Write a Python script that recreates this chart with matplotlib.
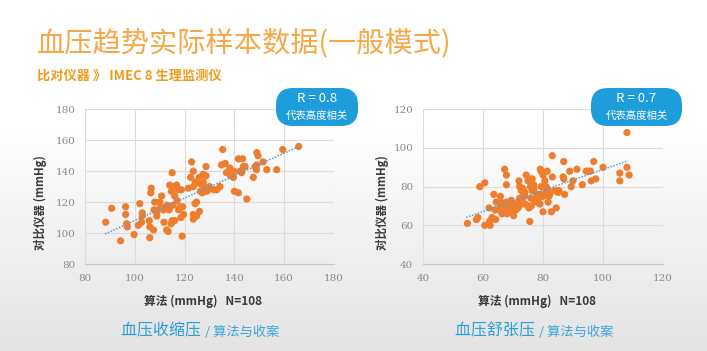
import numpy as np
import matplotlib
matplotlib.use("Agg")
import matplotlib.pyplot as plt
from matplotlib.patches import FancyBboxPatch

plt.rcParams['font.family'] = ['Noto Sans CJK SC', 'DejaVu Sans']

# ---------------- data ----------------
sys_x = [88.3, 90.7, 94.3, 96.3, 96.3, 96.7, 97.0, 99.7, 102.0, 101.4, 103.0, 103.0, 102.7,
         105.8, 106.4, 106.6, 106.0, 107.5, 106.0, 107.7, 108.0, 108.8, 108.8, 110.0, 110.0,
         110.8, 111.7, 111.5, 112.2, 112.8, 113.0, 113.8, 113.4, 114.0, 115.0, 115.4, 114.7,
         115.4, 116.0, 116.0, 115.0, 114.6, 117.0, 117.6, 116.8, 117.4, 118.3, 119.2, 118.5,
         118.7, 119.0, 119.6, 121.5, 122.4, 122.8, 123.5, 123.5, 124.2, 123.5, 123.5, 124.8,
         124.8, 124.2, 125.9, 126.1, 126.3, 127.1, 126.0, 127.5, 127.5, 127.8, 128.6, 128.6,
         128.9, 129.5, 130.0, 131.8, 132.9, 134.2, 135.3, 134.8, 136.3, 136.8, 138.2, 138.5,
         139.0, 139.6, 139.8, 140.0, 141.6, 141.6, 143.3, 142.2, 142.9, 143.6, 144.3, 145.0,
         147.6, 148.3, 148.9, 149.0, 149.0, 149.5, 151.5, 153.0, 157.0, 159.4, 165.8]
sys_y = [107, 116, 95, 117, 112, 106, 104, 99, 119, 105, 113, 111, 107,
         108, 126, 129, 104, 102, 97, 115, 120, 111, 113, 120, 116,
         124, 107, 115, 117, 102, 118, 115, 101, 131, 139, 130, 127,
         118, 124, 108, 108, 106, 121, 115, 131, 128, 117, 117, 110,
         128, 98, 112, 129, 136, 146, 140, 130, 133, 112, 109, 111,
         120, 119, 136, 132, 127, 126, 114, 138, 133, 130, 143, 137,
         127, 128, 130, 128, 128, 130, 154, 144, 145, 139, 142, 137,
         140, 136, 140, 127, 126, 148, 148, 140, 139, 143, 143, 122,
         136, 143, 141, 144, 152, 150, 146, 141, 141, 154, 156]
sys_trend_x = [88.0, 166.0]
sys_trend_y = [99.4, 156.0]

dia_x = [54.8, 57.8, 58.3, 58.9, 60.6, 60.6, 62.4, 62.2, 62.0, 63.0, 63.6, 64.4, 64.2, 65.8,
         65.9, 65.9, 66.2, 66.4, 67.2, 67.8, 67.8, 67.8, 68.3, 68.9, 69.4, 70.0, 70.2, 71.1,
         71.7, 72.2, 72.0, 72.2, 72.8, 73.3, 73.3, 73.9, 74.4, 75.0, 75.6, 76.4, 75.8, 76.4,
         76.9, 75.3, 75.3, 76.1, 75.6, 78.0, 78.6, 79.1, 79.1, 79.4, 80.0, 80.6, 80.0, 79.4,
         81.1, 81.7, 82.2, 81.7, 82.0, 81.4, 83.1, 82.8, 83.1, 83.9, 84.4, 85.0, 85.3, 86.7,
         86.9, 86.9, 87.2, 88.9, 89.4, 90.0, 91.3, 93.1, 94.4, 95.0, 95.8, 96.1, 96.9, 97.6,
         100.0, 105.6, 105.6, 108.0, 108.0, 108.7,
         64.0, 66.0, 67.0, 68.0, 69.0, 70.0, 71.0, 72.0, 73.0, 74.0, 76.0, 77.0, 78.0, 79.0,
         80.0, 81.0, 77.0, 74.0]
dia_y = [61, 63, 64, 80, 82, 60, 60, 62, 69, 64, 76, 72, 63, 75,
         72, 70, 68, 66, 89, 86, 81, 72, 69, 68, 73, 67, 65, 71,
         69, 74, 83, 80, 78, 79, 75, 75, 86, 83, 84, 84, 80, 78,
         81, 70, 69, 70, 62, 76, 74, 76, 89, 88, 86, 83, 67, 80,
         80, 78, 76, 72, 75, 88, 85, 67, 96, 78, 69, 77, 78, 85,
         93, 84, 76, 88, 80, 83, 89, 81, 88, 88, 88, 83, 93, 84,
         90, 87, 83, 108, 90, 86,
         68, 67, 70, 66, 71, 70, 68, 70, 72, 71, 74, 73, 72, 71,
         75, 77, 79, 77]
dia_trend_x = [54.4, 108.3]
dia_trend_y = [64.1, 93.4]

sys_ticks = [80, 100, 120, 140, 160, 180]
dia_ticks = [40, 60, 80, 100, 120]

title = "血压趋势实际样本数据(一般模式)"
subtitle = "比对仪器 》 IMEC 8 生理监测仪"
r_labels = ["R = 0.8", "R = 0.7"]
r_sub = "代表高度相关"
ylabel = "对比仪器 (mmHg)"
xlabel = "算法 (mmHg)   N=108"
captions = ["血压收缩压", "血压舒张压"]
caption_sub = "/ 算法与收案"

# ---------------- figure ----------------
W, H = 707, 351
fig = plt.figure(figsize=(W / 100, H / 100), dpi=100)

# background gradient
bg = fig.add_axes([0, 0, 1, 1], zorder=0)
bg.set_xlim(0, W)
bg.set_ylim(H, 0)
bg.axis('off')
rows = np.arange(H)
t = np.clip((rows - 130) / (H - 130), 0, 1)
top = np.array([1.0, 1.0, 1.0])
bot = np.array([0.89, 0.89, 0.89])
grad = top[None, :] * (1 - t[:, None]) + bot[None, :] * t[:, None]
img = np.repeat(grad[:, None, :], 2, axis=1)
bg.imshow(img, extent=[0, W, H, 0], aspect='auto', zorder=0)

ORANGE_PT = "#ee7d2e"
TREND = "#5b9bd5"
GRID = "#dcdcdc"
TICK = "#8a8a8a"


def make_chart(left_px, right_px, xs, ys, tx, ty, ticks_x, ticks_y):
    ax = fig.add_axes([left_px / W, 1 - 264 / H, (right_px - left_px) / W, (264 - 109.3) / H], zorder=1)
    ax.set_facecolor('none')
    ax.scatter(xs, ys, s=27, color=ORANGE_PT, edgecolors='none', zorder=3)
    ax.plot(tx, ty, linestyle=(0, (1, 1)), color=TREND, linewidth=1.1, zorder=4)
    ax.set_xlim(ticks_x[0], ticks_x[-1])
    ax.set_ylim(ticks_y[0], ticks_y[-1])
    ax.set_xticks(ticks_x)
    ax.set_yticks(ticks_y)
    ax.grid(True, color=GRID, linewidth=0.8, zorder=0)
    ax.set_axisbelow(True)
    for s in ['top', 'right', 'left']:
        ax.spines[s].set_visible(False)
    ax.spines['bottom'].set_color("#c8c8c8")
    ax.spines['bottom'].set_linewidth(0.8)
    ax.tick_params(length=0, labelsize=7.5, labelcolor=TICK)
    ax.tick_params(axis='x', pad=7)
    ax.tick_params(axis='y', pad=7)
    for lab in ax.get_xticklabels() + ax.get_yticklabels():
        lab.set_family(['DejaVu Serif'])
    return ax


ax1 = make_chart(85, 334, sys_x, sys_y, sys_trend_x, sys_trend_y, sys_ticks, [80, 100, 120, 140, 160, 180])
ax2 = make_chart(423, 663, dia_x, dia_y, dia_trend_x, dia_trend_y, dia_ticks, [40, 60, 80, 100, 120])

# overlay
ov = fig.add_axes([0, 0, 1, 1], zorder=2)
ov.set_facecolor('none')
ov.set_xlim(0, W)
ov.set_ylim(H, 0)
ov.axis('off')

ov.text(37, 43, title, fontsize=20.3, color="#f5a845", ha='left', va='center')
ov.text(37, 76, subtitle, fontsize=9.5, color="#f29b1d", ha='left', va='center', fontweight='bold')

BLUE = "#1d9ddb"
for (x0, x1), lab in zip([(276, 358), (591, 682)], r_labels):
    box = FancyBboxPatch((x0, 88), x1 - x0, 38,
                         boxstyle="round,pad=0,rounding_size=17",
                         facecolor=BLUE, edgecolor='none', zorder=5)
    ov.add_patch(box)
    cx = (x0 + x1) / 2
    ov.text(cx, 99, lab, fontsize=9.5, color='white', ha='center', va='center', zorder=6)
    ov.text(cx, 116, r_sub, fontsize=7.5, color='white', ha='center', va='center', zorder=6)

for x in [40, 382]:
    ov.text(x, 203, ylabel, fontsize=8.3, rotation=90, color="#3a3a3a", fontweight='bold',
            ha='center', va='center')

for cx, cap in zip([203, 537], captions):
    ov.text(cx, 301, xlabel, fontsize=8.5, color="#3a3a3a", fontweight='bold', ha='center', va='center')
    ov.text(cx + 2, 331, cap + " ", fontsize=11.5, color="#2a9fd6", ha='right', va='center')
    ov.text(cx + 2, 332, caption_sub, fontsize=9.5, color="#3aa6dc", ha='left', va='center')

fig.savefig("out.png", dpi=100)
